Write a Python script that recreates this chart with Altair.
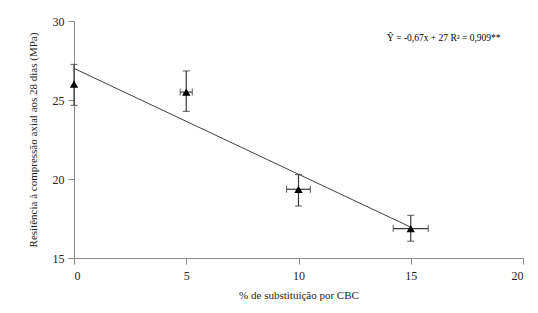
import altair as alt
import pandas as pd

# data
subst = [0, 5, 10, 15]
resist = [26.0, 25.5, 19.35, 16.86]
y_hi = [27.25, 26.84, 20.28, 17.70]
y_lo = [24.66, 24.28, 18.29, 16.06]
x_err = [0.0, 0.27, 0.53, 0.78]

fit_x = [0, 15]
fit_y = [27.0, 27.0 - 0.67 * 15]

eq_text = "Ŷ = -0,67x + 27 R² = 0,909**"
eq_x = 13.94
eq_y = 28.92

df = pd.DataFrame({
    "x": subst, "y": resist, "ylo": y_lo, "yhi": y_hi,
    "xlo": [a - e for a, e in zip(subst, x_err)],
    "xhi": [a + e for a, e in zip(subst, x_err)],
})
df_xe = df[df["xhi"] > df["xlo"]]
fit = pd.DataFrame({"x": fit_x, "y": fit_y})
ann = pd.DataFrame({"x": [eq_x], "y": [eq_y], "t": [eq_text]})

FONT = "Liberation Serif"
xs = alt.Scale(domain=[0, 20], nice=False, zero=False)
ys = alt.Scale(domain=[15, 30], nice=False, zero=False)

X = alt.X("x:Q", scale=xs, title="% de substituição por CBC",
          axis=alt.Axis(values=[0, 5, 10, 15, 20], format="d"))
Y = alt.Y("y:Q", scale=ys, title="Resitência à compressão axial aos 28 dias (MPa)",
          axis=alt.Axis(values=[15, 20, 25, 30], format="d"))

ERR = "#3a3a3a"

line = alt.Chart(fit).mark_line(color="#404040", strokeWidth=1).encode(x=X, y=Y)

vbar = alt.Chart(df).mark_rule(color=ERR, strokeWidth=1.2).encode(
    x=alt.X("x:Q", scale=xs), y=alt.Y("ylo:Q", scale=ys), y2="yhi:Q")
vcap_hi = alt.Chart(df).mark_tick(color=ERR, orient="horizontal", size=7, thickness=1.2).encode(
    x=alt.X("x:Q", scale=xs), y=alt.Y("yhi:Q", scale=ys))
vcap_lo = alt.Chart(df).mark_tick(color=ERR, orient="horizontal", size=7, thickness=1.2).encode(
    x=alt.X("x:Q", scale=xs), y=alt.Y("ylo:Q", scale=ys))

hbar = alt.Chart(df_xe).mark_rule(color=ERR, strokeWidth=1.2).encode(
    y=alt.Y("y:Q", scale=ys), x=alt.X("xlo:Q", scale=xs), x2="xhi:Q")
hcap_lo = alt.Chart(df_xe).mark_tick(color=ERR, orient="vertical", size=7, thickness=1.2).encode(
    y=alt.Y("y:Q", scale=ys), x=alt.X("xlo:Q", scale=xs))
hcap_hi = alt.Chart(df_xe).mark_tick(color=ERR, orient="vertical", size=7, thickness=1.2).encode(
    y=alt.Y("y:Q", scale=ys), x=alt.X("xhi:Q", scale=xs))

pts = alt.Chart(df).mark_point(shape="triangle-up", filled=True, color="black",
                               size=70, opacity=1).encode(x=X, y=Y)

txt = alt.Chart(ann).mark_text(align="left", baseline="middle", font=FONT,
                               fontSize=9.5, color="black").encode(
    x=alt.X("x:Q", scale=xs), y=alt.Y("y:Q", scale=ys), text="t:N")

chart = alt.layer(line, vbar, vcap_hi, vcap_lo, hbar, hcap_lo, hcap_hi, pts, txt).properties(
    width=449, height=237,
    autosize=alt.AutoSizeParams(type="none"),
    padding={"left": 66, "top": 13, "right": 5, "bottom": 50},
).configure_view(stroke=None).configure_axis(
    grid=False,
    domainColor="#8a8a8a",
    tickColor="#8a8a8a",
    tickSize=6,
    labelFont=FONT,
    labelFontSize=12,
    labelColor="#222222",
    titleFont=FONT,
    titleFontSize=11,
    titleFontWeight="normal",
    titleColor="#222222",
).configure_axisY(
    labelPadding=4, titlePadding=14,
).configure_axisX(
    labelPadding=6, titlePadding=8,
)

chart.save("out.html", embed_options={"renderer": "svg", "actions": False})
